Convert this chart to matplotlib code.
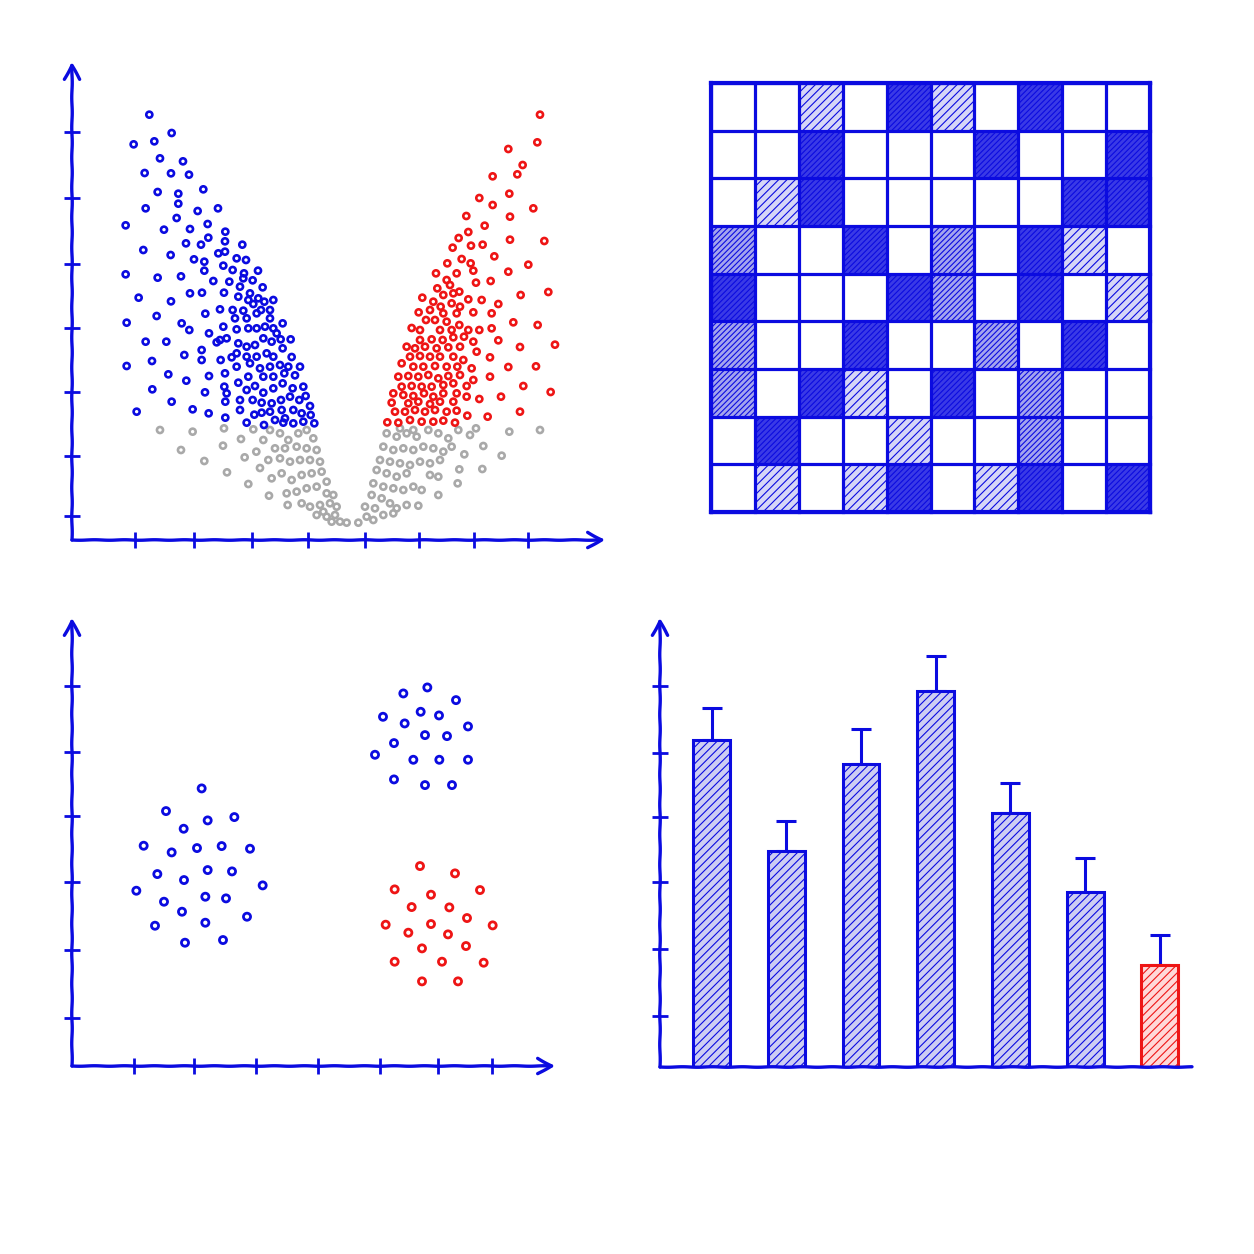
import numpy as np
import matplotlib
matplotlib.use('Agg')
import matplotlib.pyplot as plt

BLUE = '#0b0be0'
RED = '#ee1515'
GRAY = '#a9a9a9'
plt.rcParams['hatch.linewidth'] = 0.8

# ---------------- data ----------------
# Volcano plot readings (reading grid units); converted below to log2FC / -log10(p)
down_pts = [(148,44),(215,99),(101,133),(163,124),(180,175),(249,184),(134,219),(213,220),(267,224),
            (173,276),(235,281),(310,268),(137,325),(235,311),(293,333),(354,325),(77,376),(230,354),
            (192,389),(270,387),(323,372),(376,395),(130,450),(212,465),(258,430),(303,434),(325,413),
            (375,424),(427,434),(77,523),(173,533),(243,529),(282,478),(313,512),(116,593),(213,604),
            (270,580),(306,578),(80,668),(170,648),(245,670),(268,690),(316,641),(137,725),(199,725),
            (253,765),(305,750),(327,700),(80,798),(156,783),(205,823),(259,842),(305,780),(327,828),
            (157,868),(215,905),(278,928),(326,940),(110,935),(315,877),(376,905),(376,953),(362,780),
            (375,820),(360,720),
            (375,455),(410,475),(438,480),(355,460),(313,485),(370,497),(398,510),(432,520),(474,512),
            (340,543),(388,545),(430,535),(458,541),(488,562),(372,578),(420,560),(450,580),
            (415,590),(445,600),(475,595),(520,600),(360,628),(398,630),(430,632),(460,612),(493,605),
            (405,655),(440,655),(470,640),(510,655),(483,630),(510,630),
            (370,680),(410,688),(445,685),(470,685),(495,680),(520,685),(548,670),(530,700),
            (350,727),(380,715),(415,730),(440,740),(465,735),(490,715),(515,725),(542,718),(572,718),
            (395,772),(410,760),(440,770),(470,770),(500,760),(520,770),(548,745),(575,771),
            (410,800),(450,790),(480,805),(510,800),(540,795),(565,800),(600,800),(415,848),(445,830),
            (490,830),(520,830),(553,820),(585,826),(373,860),(440,870),(465,858),(490,878),(520,865),
            (548,850),(578,865),(610,860),(420,900),(380,880),(458,900),(485,908),(515,910),(543,900),
            (570,890),(598,900),(617,888),(545,930),(420,930),(463,944),(485,938),(510,935),(525,960),
            (555,955),(580,930),(605,940),(630,918),(440,968),(492,975),(550,968),(580,970),(610,965),
            (643,970),(632,945)]
up_pts = [(1320,44),(1312,127),(1225,147),(1268,195),(1252,223),(1178,229),(1228,281),(1138,294),
          (1178,315),(1300,325),(1230,350),(1099,348),(1154,377),(1105,396),(1076,414),(1333,423),
          (1230,419),(1148,434),(1113,437),(1058,443),(1183,469),(1285,494),(1225,515),(1172,543),
          (1345,576),(1262,585),(1195,612),(1240,667),(1313,675),(1195,721),(1260,741),(1365,734),
          (1225,801),(1308,799),(1170,830),(1270,858),(1352,876),(1203,890),(1138,897),(1260,935),
          (1102,947),(1163,950),(967,593),(956,637),
          (1042,490),(1085,477),(1070,520),(1008,520),(1112,490),(1120,512),
          (1040,540),(1012,565),(1050,555),(1078,575),(1128,548),(1060,580),(1030,585),
          (1000,605),(1022,620),(1055,610),(1080,620),(1105,598),(1145,600),(990,630),(1030,640),
          (1070,640),(1120,637),(1175,640),(978,660),(1005,660),(1040,665),(1078,675),(1105,690),
          (1138,690),(1175,685),(935,684),(960,690),(1020,690),(1055,690),
          (960,720),(995,718),(1028,720),(1060,712),(1092,710),(1120,725),(920,740),(945,745),
          (975,740),(1010,745),(1045,742),(1080,740),(1130,755),(1170,772),
          (930,770),(960,768),(990,770),(1020,770),(1060,770),(1090,780),(905,790),(940,800),
          (970,800),(1005,798),(1040,800),(1072,800),(1115,805),
          (895,830),(925,828),(955,830),(985,825),(1015,835),(1045,828),(1080,825),(1120,840),
          (905,860),(935,858),(965,860),(995,860),(1030,855),(1060,850),(1100,858),
          (880,880),(910,885),(940,888),(972,880),(1000,890),(1030,880),(1070,880),(1100,890),
          (875,908),(925,910),(955,905),(990,912),(1020,905),(1060,905),
          (885,935),(915,935),(945,930),(975,935),(1005,930),(1040,935),(1070,932),
          (862,967),(895,968),(930,960),(965,965),(1000,965),(1030,962),(1065,968)]
ns_pts = [(180,990),(278,995),(243,1050),(313,1083),(381,1117),(445,1152),(369,1037),(372,985),
          (423,1017),(460,988),(469,1055),(434,1072),(480,1104),(507,1187),(563,1215),(490,1020),
          (510,990),(540,1000),(565,1020),(595,1000),(620,990),(640,1015),
          (525,1045),(555,1045),(590,1040),(620,1045),(650,1050),(505,1080),(540,1075),(570,1085),
          (600,1080),(630,1080),(660,1085),(515,1135),(545,1120),(575,1140),(605,1125),(635,1120),
          (665,1115),(680,1145),(560,1180),(590,1175),(620,1165),(650,1160),(680,1180),(700,1185),
          (605,1210),(630,1220),(660,1215),(690,1210),(710,1220),(650,1245),(680,1250),(705,1245),
          (720,1265),(740,1268),(695,1265),(670,1235),
          (775,1268),(800,1250),(820,1260),(795,1220),(825,1225),(850,1245),(880,1240),(815,1185),
          (845,1195),(870,1210),(890,1225),(920,1215),(955,1217),(820,1150),(850,1160),(880,1165),
          (910,1170),(940,1160),(830,1110),(860,1120),(890,1130),(920,1120),(965,1170),(1015,1185),
          (840,1080),(870,1085),(900,1090),(930,1095),(960,1085),(990,1090),(1020,1080),(1073,1150),
          (1078,1108),(850,1040),(880,1050),(910,1045),(940,1050),(970,1040),(1000,1045),(1030,1055),
          (1055,1040),(860,1000),(890,1010),(920,1000),(950,1010),(985,990),(1015,1000),(1045,1015),
          (1075,990),(1110,1005),(1150,1038),(1205,1067),(1147,1107),(1093,1063),(1128,985),
          (1320,990),(1228,995),(940,990),(900,985),(1015,1130),(990,1125)]
volcano_xticks = [-4.33, -3.15, -1.99, -0.87, 0.27, 1.35, 2.45, 3.53]
volcano_yticks = [0.48, 1.68, 2.96, 4.24, 5.52, 6.84, 8.16]

# Heatmap levels: 0 none, 1 light, 2 medium, 3 dark (9 rows x 10 columns)
heat_levels = [
    [0, 0, 1, 0, 3, 1, 0, 3, 0, 0],
    [0, 0, 3, 0, 0, 0, 3, 0, 0, 3],
    [0, 1, 3, 0, 0, 0, 0, 0, 3, 3],
    [2, 0, 0, 3, 0, 2, 0, 3, 1, 0],
    [3, 0, 0, 0, 3, 2, 0, 3, 0, 1],
    [2, 0, 0, 3, 0, 0, 2, 0, 3, 0],
    [2, 0, 3, 1, 0, 3, 0, 2, 0, 0],
    [0, 3, 0, 0, 1, 0, 0, 2, 0, 0],
    [0, 1, 0, 1, 3, 0, 1, 3, 0, 3],
]

# Cluster scatter readings (reading grid units)
cluster_a = [(305,385),(198,453),(323,481),(403,471),(251,506),(131,557),(215,577),(291,564),
             (365,558),(450,566),(172,642),(252,660),(323,630),(396,634),(488,676),(109,692),
             (192,725),(316,710),(378,715),(246,755),(165,797),(316,788),(441,770),(255,848),(369,840)]
cluster_b = [(910,100),(982,82),(1068,120),(849,170),(914,190),(962,155),(1017,166),(1104,199),
             (975,225),(1041,228),(882,249),(825,284),(940,299),(1018,299),(1104,299),(882,358),
             (975,375),(1056,375)]
cluster_c = [(960,618),(1065,640),(884,688),(993,704),(1140,690),(935,741),(1048,742),(1101,774),
             (857,794),(993,792),(1178,796),(925,818),(1044,823),(966,865),(1098,858),(884,905),
             (1026,905),(1151,908),(966,964),(1074,964)]
cluster_xticks = [1.03, 2.03, 3.07, 4.10, 5.13, 6.10, 7.00]
cluster_yticks = [0.73, 1.76, 2.79, 3.79, 4.76, 5.76]

# Bar chart
bar_values = [4.95, 3.27, 4.59, 5.70, 3.85, 2.65, 1.55]
bar_errors = [0.48, 0.45, 0.53, 0.53, 0.45, 0.52, 0.45]
bar_highlight = [False, False, False, False, False, False, True]
bar_yticks = [0.77, 1.79, 2.80, 3.79, 4.76, 5.77]

# ---------------- figure ----------------
W = H = 1254
fig = plt.figure(figsize=(12.54, 12.54), dpi=100)
fig.patch.set_facecolor('white')


def rect(l, t, r, b):
    return [l / W, 1 - b / H, (r - l) / W, (b - t) / H]


def sketch_axes(ax, xarrow=True, yarrow=True, xticks=None, yticks=None):
    for s in ax.spines.values():
        s.set_visible(False)
    head = '->,head_length=1.0,head_width=0.55'
    for end, has_arrow in (((0, 1.0), yarrow), ((1.0, 0), xarrow)):
        a = ax.annotate('', xy=end, xytext=(0, 0), xycoords='axes fraction',
                        textcoords='axes fraction', annotation_clip=False,
                        arrowprops=dict(arrowstyle=head if has_arrow else '-', lw=2.4,
                                        color=BLUE, shrinkA=0, shrinkB=0))
        a.arrow_patch.set_sketch_params(0.25, 30, 1)
    ax.set_xticks(xticks if xticks is not None else [])
    ax.set_yticks(yticks if yticks is not None else [])
    ax.tick_params(direction='inout', length=11.5, width=2.0, color=BLUE,
                   labelleft=False, labelbottom=False)


# Panel 1: volcano
ax1 = fig.add_axes(rect(72, 62, 605, 540))
def conv_volcano(pts):
    p = np.array(pts, dtype=float)
    return (p[:, 0] - 755) / 150, (1320 - p[:, 1]) / 150
for pts, col in ((ns_pts, GRAY), (down_pts, BLUE), (up_pts, RED)):
    x, y = conv_volcano(pts)
    ax1.scatter(x, y, s=19, facecolors='none', edgecolors=col, linewidths=1.9, zorder=3)
ax1.set_xlim(-5.593, 5.067)
ax1.set_ylim(0, 9.56)
sketch_axes(ax1, xticks=volcano_xticks, yticks=volcano_yticks)

# Panel 2: heatmap
ax2 = fig.add_axes(rect(711, 83, 1150, 512))
face = {1: '#d6d6f7', 2: '#a4a4ee', 3: '#3a3ae6'}
hatch = {1: '////', 2: '//////', 3: '//////'}
levels = np.array(heat_levels)
for r in range(levels.shape[0]):
    for c in range(levels.shape[1]):
        v = levels[r, c]
        if v > 0:
            ax2.bar(c + 0.5, 1, bottom=r, width=1, color=face[v], hatch=hatch[v],
                    edgecolor=BLUE, linewidth=0, zorder=1)
for r in range(levels.shape[0] + 1):
    ax2.axhline(r, color=BLUE, lw=2.3, zorder=3, clip_on=False)
for c in range(levels.shape[1] + 1):
    ax2.axvline(c, color=BLUE, lw=2.3, zorder=3, clip_on=False)
ax2.set_xlim(0, levels.shape[1])
ax2.set_ylim(levels.shape[0], 0)
ax2.set_xticks([])
ax2.set_yticks([])
for s in ax2.spines.values():
    s.set_color(BLUE)
    s.set_linewidth(3.0)
    s.set_zorder(4)

# Panel 3: clusters
ax3 = fig.add_axes(rect(72, 618, 555, 1066))
def conv_cluster(pts):
    p = np.array(pts, dtype=float)
    return (p[:, 0] + 84) / 180, (1218 - p[:, 1]) / 198
for pts, col in ((cluster_a, BLUE), (cluster_b, BLUE), (cluster_c, RED)):
    x, y = conv_cluster(pts)
    ax3.scatter(x, y, s=26, facecolors='none', edgecolors=col, linewidths=2.0, zorder=3)
ax3.set_xlim(0, 8.05)
ax3.set_ylim(0, 6.79)
sketch_axes(ax3, xticks=cluster_xticks, yticks=cluster_yticks)

# Panel 4: bars
ax4 = fig.add_axes(rect(660, 618, 1192, 1067))
xpos = np.arange(len(bar_values))
for i, (v, e, hl) in enumerate(zip(bar_values, bar_errors, bar_highlight)):
    col = RED if hl else BLUE
    fc = '#ffd8d8' if hl else '#cdcdf3'
    ax4.bar(xpos[i], v, width=0.495, color=fc, hatch='////', edgecolor=col,
            linewidth=2.2, zorder=2)
    ax4.errorbar(xpos[i], v, yerr=[[0], [e]], fmt='none', ecolor=BLUE,
                 elinewidth=2.2, capsize=7.5, capthick=2.2, zorder=1)
ax4.set_xlim(-0.69, 6.43)
ax4.set_ylim(0, 6.80)
sketch_axes(ax4, xarrow=False, yticks=bar_yticks)

fig.savefig('out.png', dpi=100, facecolor='white')
